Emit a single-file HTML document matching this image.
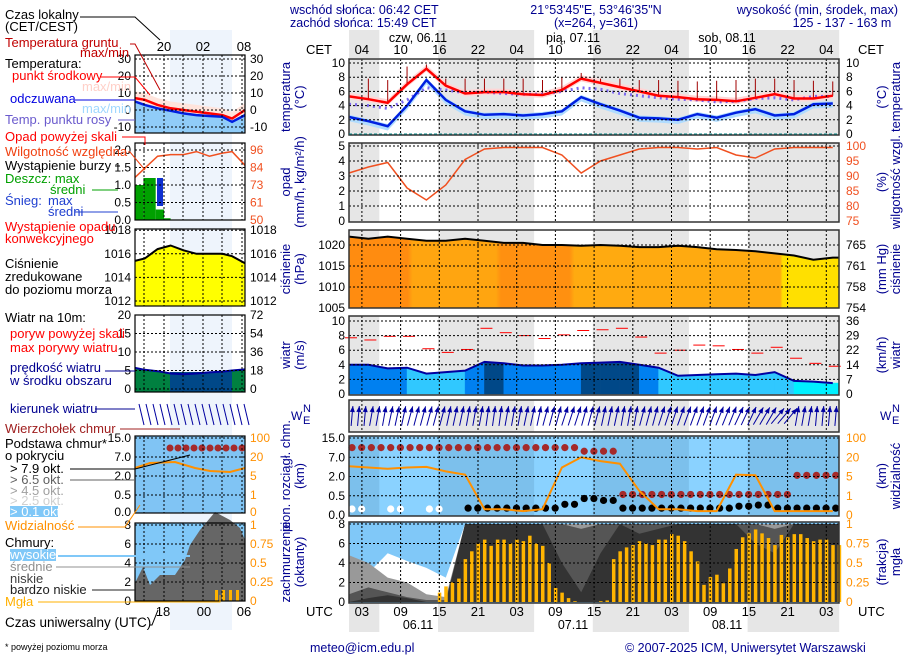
<!DOCTYPE html>
<html><head><meta charset="utf-8">
<style>
html,body{margin:0;padding:0;background:#fff;}
svg{display:block;font-family:"Liberation Sans",sans-serif;}
.nv{fill:#000090;}
</style></head>
<body>
<svg id="chart" width="910" height="660" viewBox="0 0 910 660" xmlns="http://www.w3.org/2000/svg">
<defs>
<linearGradient id="pgrad" x1="0" x2="1" y1="0" y2="0">
<stop offset="0" stop-color="#ff8c10"/><stop offset="0.12" stop-color="#ff8c10"/>
<stop offset="0.13" stop-color="#ffa510"/><stop offset="0.3" stop-color="#ffa510"/>
<stop offset="0.31" stop-color="#ff9010"/><stop offset="0.45" stop-color="#ff9010"/>
<stop offset="0.46" stop-color="#ffaa10"/><stop offset="0.88" stop-color="#ffaa10"/>
<stop offset="0.885" stop-color="#ffe000"/><stop offset="1" stop-color="#ffe000"/>
</linearGradient>
</defs>
<g id="bg"></g>
<g id="marks"></g>
<g id="grid"></g>
<g id="labels" font-size="12"></g>

<g class="nv" font-size="12.5">
<text x="290" y="14">wschód słońca: 06:42 CET</text>
<text x="290" y="27">zachód słońca: 15:49 CET</text>
<text x="596" y="14" text-anchor="middle">21°53'45"E, 53°46'35"N</text>
<text x="596" y="27" text-anchor="middle">(x=264,  y=361)</text>
<text x="898" y="14" text-anchor="end">wysokość (min, środek, max)</text>
<text x="842" y="27" text-anchor="middle">125 - 137 - 163 m</text>
</g>
<g font-size="12.5" fill="#000">
<text x="418" y="42" text-anchor="middle">czw, 06.11</text>
<text x="573" y="42" text-anchor="middle">pią, 07.11</text>
<text x="727" y="42" text-anchor="middle">sob, 08.11</text>
<text x="306" y="54" font-size="13">CET</text>
<text x="858" y="54" font-size="13">CET</text>
<text x="306" y="616" font-size="13">UTC</text>
<text x="858" y="616" font-size="13">UTC</text>
<text x="418" y="629" text-anchor="middle">06.11</text>
<text x="573" y="629" text-anchor="middle">07.11</text>
<text x="727" y="629" text-anchor="middle">08.11</text>
</g>
<g class="nv" font-size="12.5">
<text x="310" y="652">meteo@icm.edu.pl</text>
<text x="625" y="652">© 2007-2025 ICM, Uniwersytet Warszawski</text>
</g>

<g font-size="13">
<text x="5" y="19">Czas lokalny</text>
<text x="5" y="31">(CET/CEST)</text>
<text x="5" y="47" fill="#c00000">Temperatura gruntu</text>
<text x="80" y="57" fill="#c00000">max/min</text>
<text x="5" y="68">Temperatura:</text>
<text x="12" y="80" fill="#ff0000">punkt środkowy</text>
<text x="82" y="91" fill="#ffd0c8">max/min</text>
<text x="10" y="103" fill="#0000e0">odczuwana</text>
<text x="82" y="113" fill="#a0d8ff">max/min</text>
<text x="5" y="124" fill="#6a5acd">Temp. punktu rosy</text>
<text x="5" y="141" fill="#ff0000">Opad powyżej skali</text>
<text x="5" y="156" fill="#f04010">Wilgotność względna</text>
<text x="5" y="170">Wystąpienie burzy</text>
<text x="5" y="183" fill="#00a000">Deszcz: max</text>
<text x="50" y="194" fill="#00a000">średni</text>
<text x="5" y="205" fill="#2040d0">Śnieg:</text>
<text x="48" y="205" fill="#2040d0">max</text>
<text x="48" y="216" fill="#2040d0">średni</text>
<text x="5" y="231" fill="#ff0000">Wystąpienie opadu</text>
<text x="5" y="243" fill="#ff0000">konwekcyjnego</text>
<text x="5" y="268">Ciśnienie</text>
<text x="5" y="281">zredukowane</text>
<text x="5" y="294">do poziomu morza</text>
<text x="5" y="322">Wiatr na 10m:</text>
<text x="10" y="338" fill="#ff0000">poryw powyżej skali</text>
<text x="10" y="352" fill="#ff0000">max porywy wiatru</text>
<text x="10" y="372" fill="#000090">prędkość wiatru</text>
<text x="10" y="385" fill="#000090">w środku obszaru</text>
<text x="10" y="413" fill="#000090">kierunek wiatru</text>
<text x="5" y="433" fill="#a02020">Wierzchołek chmur</text>
<text x="5" y="448">Podstawa chmur*</text>
<text x="5" y="460">o pokryciu</text>
<text x="10" y="473">&gt; 7.9 okt.</text>
<text x="10" y="484" fill="#606060">&gt; 6.5 okt.</text>
<text x="10" y="495" fill="#a0a0a0">&gt; 4.5 okt.</text>
<text x="10" y="505" fill="#d0d0d0">&gt; 2.5 okt.</text>
<rect x="10" y="506" width="48" height="11" fill="#80c8f8"/>
<text x="10" y="516" fill="#fff">&gt; 0.1 okt.</text>
<text x="5" y="530" fill="#ff9000">Widzialność</text>
<text x="5" y="547">Chmury:</text>
<rect x="10" y="549" width="46" height="12" fill="#80c8f8"/>
<text x="10" y="559" fill="#fff">wysokie</text>
<text x="10" y="571" fill="#909090">średnie</text>
<text x="10" y="583" fill="#404040">niskie</text>
<text x="10" y="594" fill="#202020">bardzo niskie</text>
<text x="5" y="606" fill="#ffb000">Mgła</text>
<text x="5" y="627" font-size="13.5">Czas uniwersalny (UTC)</text>
<text x="5" y="650" font-size="9">* powyżej poziomu morza</text>
</g>
<g stroke-width="1" fill="none">
<polyline points="80,17 135,17 160,40" stroke="#000"/>
<polyline points="130,44 135,44 160,90" stroke="#c00000"/>
<polyline points="100,77 135,77 150,95" stroke="#ff0000"/>
<polyline points="75,100 135,100" stroke="#0000e0"/>
<polyline points="118,120 135,120" stroke="#6a5acd"/>
<polyline points="122,137 145,137 145,145" stroke="#ff0000"/>
<polyline points="128,152 130,152 145,170" stroke="#f04010"/>
<polyline points="115,166 120,166" stroke="#000"/>
<polyline points="92,190 118,190" stroke="#00a000"/>
<polyline points="75,212 118,212" stroke="#2040d0"/>
<polyline points="105,371 135,371" stroke="#000090"/>
<polyline points="95,409 135,409" stroke="#000090"/>
<polyline points="120,429 180,429" stroke="#a02020"/>
<polyline points="70,469 135,469 190,455" stroke="#000"/>
<polyline points="70,480 135,480" stroke="#606060"/>
<polyline points="78,527 125,527 140,505" stroke="#ff9000"/>
<polyline points="58,556 190,556" stroke="#80c8f8" stroke-width="2"/>
<polyline points="56,567 190,567" stroke="#909090"/>
<polyline points="92,590 135,590" stroke="#202020"/>
<polyline points="38,602 220,602 220,595" stroke="#ffb000"/>
<polyline points="150,625 152,625 158,610" stroke="#000"/>
</g>
</svg>
<script>
const hours = [0,3,6,9,12,15,18,21,24,27,30,33,36,39,42,45,48,51,54,57,60,63,66,69,72,75];
const tempMid = [5.3,4.9,4.4,7.0,9.2,6.8,5.7,5.9,5.9,5.6,5.5,6.2,7.8,7.2,6.6,6.0,5.4,5.2,4.9,4.8,4.6,5.1,5.6,5.0,5.0,5.4];
const tempFelt = [2.4,1.8,1.1,4.0,7.6,4.8,3.2,2.7,2.8,2.6,2.8,3.2,5.2,4.2,3.3,2.3,2.2,2.0,2.8,2.3,3.0,3.5,2.6,2.8,4.2,4.3];
const dewPoint = [4.2,4.0,3.6,4.8,6.5,6.2,5.8,5.9,5.7,5.6,5.6,6.0,6.5,6.3,5.7,5.4,5.1,4.9,4.8,4.5,4.6,5.0,5.1,4.8,5.3,5.3];
const groundMax = [7.8,7.8,7.6,9.5,9.8,7.8,7.8,7.8,7.8,7.8,7.6,8.0,8.6,7.8,7.8,7.6,7.6,7.5,7.4,7.5,7.6,7.8,7.8,7.6,7.5,7.4];
const humidity = [91,93,94.5,86,82,87,95.5,99,99.5,99.5,99.5,97,91,95,97,99,99.5,99.5,99,99.5,97,96,99,99.5,99.5,99.5];
const pressure = [1022,1021.5,1022,1021.5,1021,1021,1021.5,1021,1020.5,1020.5,1020,1020,1019.8,1020,1019.8,1019.5,1019.5,1019.8,1019.5,1019,1018.8,1018.5,1018,1017.5,1016.5,1017];
const windSpeed = [4.0,4.0,3.5,3.6,2.8,3.0,3.2,4.4,4.2,3.9,3.9,4.0,4.2,4.3,4.4,4.0,3.6,2.5,2.6,2.7,2.8,2.6,3.0,1.8,1.7,1.5];
const windGust = [7.7,7.4,7.9,7.9,6.2,5.7,6.1,9.0,8.4,8.0,7.6,8.1,8.7,8.8,9.0,7.8,5.6,6.0,6.7,6.6,6.1,5.6,6.4,4.9,4.2,3.8];
const windDir = [5,10,12,15,15,12,10,8,10,12,15,18,15,12,10,15,18,20,20,22,25,30,40,10,5,5];
const visibility = [13,12,11,12,12.5,9,6.5,0.3,0.3,0.2,0.3,12,20,17,15,2,0.3,0.3,0.2,0.2,6.5,6,0.2,0.2,0.2,0.2];
const cloudTopKm = [11,11,11,11,11,11,11,11,11,11,11,11,9.5,9.5,0.6,0.6,0.6,0.6,0.6,0.6,0.6,0.6,0.6,2.3,2.3,2.3];
const cloudBaseKm = [0,0,0,0,0,0,0.1,0.1,0.1,0.1,0.1,0.2,0.35,0.3,0.1,0.1,0.1,0.1,0.1,0.1,0.15,0.18,0.1,0.1,0.1,0.1];
const cloudHigh = [4.5,3.0,5.0,4.2,3.5,2.5,8,8,8,8,8,8,8,8,8,8,8,8,8,8,8,8,8,8,8,8];
const cloudMid = [4.8,4.0,2.5,2.0,0.8,0.5,8,8,8,8,8,8,8,8,8,8,8,8,8,8,8,8,8,8,8,8];
const cloudLow = [0.8,1.5,1.0,0.5,0.2,0.2,8,8,8,8,8,8,7.5,8,8,8,8,8,8,8,8,8,7.5,8,8,8];
const cloudVeryLow = [0,0.4,0.7,0.4,0,0,8,8,8,8,8,4,1,5,8,7,7.5,8,8,8,8,6,5,8,8,8];
const fogStart = 14;
const fogFraction = [.12,.2,.25,.3,.55,.65,.75,.8,.72,.8,.8,.75,.8,.78,.85,.75,.72,.5,.18,.12,.05,.01,0,0,0,.01,.02,.55,.65,.7,.73,.78,.75,.73,.8,.8,.87,.85,.78,.65,.52,.22,.32,.35,.24,.43,.68,.83,.88,.93,.88,.82,.73,.86,.83,.87,.87,.82,.78,.8,.8,.73,.73];
const cetTicks = ["04","10","16","22","04","10","16","22","04","10","16","22","04"];
const utcTicks = ["03","09","15","21","03","09","15","21","03","09","15","21","03"];
const nights = [[0,4.7],[13.8,28.7],[37.8,52.7],[61.8,76]];
const tempTicks = [0,2,4,6,8,10];
const precipTicks = [0,1,2,3,4,5];
const rhTicks = ["75","80","85","90","95","100"];
const presTicks = [1005,1010,1015,1020];
const presHgTicks = ["754","758","761","765"];
const windTicks = [0,2,4,6,8,10];
const windKmhTicks = ["0","7","14","22","29","36"];
const cbTicks = ["0.0","0.5","2.0","7.0","15.0"];
const cbKm = [0,0.5,2,7,15];
const visTicks = ["0","1","5","20","100"];
const visVals = [0,1,5,20,100];
const ccTicks = [0,2,4,6,8];
const fogTicks = ["0","0.25","0.5","0.75","1"];

const miniHours = [15.5,17,19,21,23,25,27,29,30.5,32.5];
const miniTemp = [7,6,3,1,0,-1,-2,-3,-5,0];
const miniFelt = [5,3,1,-0.5,-2,-3,-3.5,-4,-7,-3];
const miniRH = [78,84,92,93,93,95,92,94,95,86];
const miniPres = [1015.4,1015.6,1016.4,1016.7,1016.3,1016.0,1016.0,1016.0,1015.8,1015.2];
const miniWind = [5.7,5.2,4.8,4.2,4.0,4.2,4.5,4.7,5.0,5.3];
const miniRainHours = [15.5,16.8,18.7,20,21];
const miniRain = [1.0,1.2,0.3,0.05,0];

const NS="http://www.w3.org/2000/svg";
const bg=document.getElementById('bg'), mk_=document.getElementById('marks'), gr=document.getElementById('grid'), lb=document.getElementById('labels');
function mk(tag,at,par){const e=document.createElementNS(NS,tag);for(const k in at)e.setAttribute(k,at[k]);par.appendChild(e);return e;}
const X=t=>349+t*6.45;
const P={temp:[59,135],prec:[143,222],pres:[230,308],wind:[316,395],dir:[400,432],cb:[436,516],cc:[522,603]};
const yT=v=>134-v*7.1, yP=v=>221-v*15, yRH=v=>221-(v-75)*3, yPr=v=>308-(v-1005)*4.2, yW=v=>394-v*7.3, yC=v=>602-v*9.75;
function pieceIdx(v,arr){for(let i=1;i<arr.length;i++){if(v<=arr[i])return i-1+(v-arr[i-1])/(arr[i]-arr[i-1]);}return arr.length-1;}
const yCB=km=>515-pieceIdx(km,cbKm)*19.25, yVis=v=>515-pieceIdx(v,visVals)*19.25;
function pts(fy,vals){return hours.map((h,i)=>X(h).toFixed(1)+','+fy(vals[i]).toFixed(1)).join(' ');}

for(const k in P){const [a,b]=P[k];
 let r=mk('rect',{x:349,y:a,width:490,height:b-a,fill:k==='cb'?'#8ad2ff':(k==='cc'?'#80c8f8':'#fff')},bg);
 
 
 nights.forEach((n,i)=>{let s=mk('rect',{x:X(n[0]),y:a,width:X(n[1])-X(n[0]),height:b-a,fill:k==='cb'?'#7cc0ec':(k==='cc'?'#80c8f8':'#e6e6e6')},bg);
  
  });
}
[[30,58],[603,632]].forEach(([a,b])=>nights.forEach(n=>{let s=mk('rect',{x:X(n[0]),y:a,width:X(n[1])-X(n[0]),height:b-a,fill:'#e6e6e6'},bg);
 
 }));
let band=mk('rect',{x:170,y:30,width:62,height:600,fill:'#eef4fc'},bg);


const MP={temp:[55,133],prec:[143,220],pres:[229,306],wind:[315,392],dir:[398,429],cb:[436,513],cc:[523,601]};
for(const k in MP){const [a,b]=MP[k];
 let r=mk('rect',{x:135,y:a,width:110,height:b-a,fill:k==='cb'?'#80c4f4':(k==='cc'?'#80c8f8':'#fff')},bg);
 
 
 if(k!=='cb'&&k!=='cc'){let s=mk('rect',{x:170,y:a,width:62,height:b-a,fill:'#eef4fc'},bg);
  
  }
}

const tb=mk('polygon',{points:pts(v=>yT(v+0.5),tempMid)+' '+hours.slice().reverse().map((h,i)=>X(h)+','+yT(tempMid[hours.length-1-i]-0.4)).join(' '),fill:'#ffd6d6'},mk_);


const fb=mk('polygon',{points:pts(v=>yT(v+0.3),tempFelt)+' '+hours.slice().reverse().map((h,i)=>X(h)+','+yT(tempFelt[hours.length-1-i]-0.6)).join(' '),fill:'#b0dcff'},mk_);


hours.forEach((h,i)=>{let l=mk('line',{x1:X(h),x2:X(h),y1:yT(tempMid[i]),y2:yT(groundMax[i]),stroke:'#a00000','stroke-width':1},mk_);
 
 });
let dl=mk('polyline',{points:pts(yT,dewPoint),fill:'none',stroke:'#7b68ee','stroke-width':3,'stroke-dasharray':'2,4'},mk_);


let tl=mk('polyline',{points:pts(yT,tempMid),fill:'none',stroke:'#ff0000','stroke-width':2.5},mk_);


let fl=mk('polyline',{points:pts(yT,tempFelt),fill:'none',stroke:'#0020e0','stroke-width':2.5},mk_);



let rl=mk('polyline',{points:pts(yRH,humidity),fill:'none',stroke:'#f05020','stroke-width':1.5},mk_);



let pa=mk('polygon',{points:'349,308 '+pts(yPr,pressure)+' 839,'+yPr(pressure[pressure.length-1])+' 839,308',fill:'url(#pgrad)'},mk_);


let pl=mk('polyline',{points:pts(yPr,pressure)+' 839,'+yPr(pressure[pressure.length-1]),fill:'none',stroke:'#000','stroke-width':2},mk_);



function wcol(v){return v>=4.2?'#004888':v>=3.3?'#0080f0':v>=2.2?'#30c8ff':'#00f0ff';}
for(let i=0;i<hours.length;i++){const h0=hours[i],h1=i<hours.length-1?hours[i+1]:76;const v1=i<hours.length-1?windSpeed[i+1]:windSpeed[i];
 let s=mk('polygon',{points:`${X(h0)},394 ${X(h0)},${yW(windSpeed[i])} ${X(h1)},${yW(v1)} ${X(h1)},394`,fill:wcol((windSpeed[i]+v1)/2),stroke:wcol((windSpeed[i]+v1)/2),'stroke-width':0.5},mk_);
 
 }
let wl=mk('polyline',{points:pts(yW,windSpeed),fill:'none',stroke:'#0000a0','stroke-width':2},mk_);


hours.forEach((h,i)=>{let g=mk('line',{x1:X(h)-4,x2:X(h)+8,y1:yW(windGust[i]),y2:yW(windGust[i]),stroke:'#ff0000','stroke-width':1},mk_);
 
 });

for(let t=0;t<76;t++){const d=windDir[Math.min(Math.floor(t/3),windDir.length-1)]*Math.PI/180;const cx=X(t)+3,cy=416,L=10;
 const x1=cx-Math.sin(d)*L,y1=cy+Math.cos(d)*L,x2=cx+Math.sin(d)*L,y2=cy-Math.cos(d)*L;
 let a=mk('line',{x1:x1,y1:y1,x2:x2,y2:y2,stroke:'#0000a0','stroke-width':1},mk_);
 
 
 let hd=mk('polygon',{points:`${x2},${y2} ${x2-2.5},${y2+6} ${x2+2.5},${y2+6}`,fill:'#0000a0',transform:`rotate(${d*180/Math.PI} ${x2} ${y2})`},mk_);
 
 }

hours.forEach((h,i)=>{[0,1.5].forEach(o=>{if(h+o>76)return;
 let c=mk('circle',{cx:X(h+o)+3,cy:yCB(cloudTopKm[i]),r:3.6,fill:'#a52a2a'},mk_);
 
 
 if(h>=18){let b=mk('circle',{cx:X(h+o)+3,cy:yCB(cloudBaseKm[i])-3,r:3.6,fill:'#000'},mk_);
 
 }
 else if(i%2===0){let b=mk('circle',{cx:X(h+o)+3,cy:509,r:3.6,fill:'#fff'},mk_);
 
 }
});});
let vl=mk('polyline',{points:pts(yVis,visibility),fill:'none',stroke:'#ff9000','stroke-width':2},mk_);



[[cloudHigh,'#ffffff','high'],[cloudMid,'#999999','mid'],[cloudLow,'#555555','low'],[cloudVeryLow,'#333333','very-low']].forEach(([arr,col,nm])=>{
 let a=mk('polygon',{points:'349,602 '+pts(yC,arr)+' 839,'+yC(arr[arr.length-1])+' 839,602',fill:col},mk_);
 
 });
fogFraction.forEach((f,i)=>{const t=fogStart+i;if(t>76||f<=0)return;
 let b=mk('rect',{x:X(t)-1.5,y:602-f*78,width:3.5,height:f*78,fill:'#ffb400'},mk_);
 
 });

for(let k=0;k<13;k++){const x=X(2+6*k);
 for(const p in P){const [a,b]=P[p];let l=mk('line',{x1:x,x2:x,y1:a,y2:b,stroke:'#000','stroke-dasharray':'2,2','stroke-width':1},gr);
  
  }
 let c=mk('text',{x:x,y:54,'text-anchor':'middle','font-size':13},lb);c.textContent=cetTicks[k];
 
 
 let u=mk('text',{x:x,y:616,'text-anchor':'middle','font-size':13},lb);u.textContent=utcTicks[k];
 
 }
function hgrid(a,b,ys,ll,rl,rcol,nm){ys.forEach((y,i)=>{if(y>a+1&&y<b-1){let l=mk('line',{x1:349,x2:839,y1:y,y2:y,stroke:'#000','stroke-dasharray':'2,2'},gr);
  
  }
 let t=mk('text',{x:345,y:y+4,'text-anchor':'end'},lb);t.textContent=ll[i];
 
 
 let r=mk('text',{x:846,y:y+4,fill:rcol},lb);r.textContent=rl[i];
 
 });}
hgrid(59,135,tempTicks.map(yT),tempTicks,tempTicks,'#000','temp');
hgrid(143,222,precipTicks.map(yP),precipTicks,rhTicks,'#f05020','precip');
hgrid(230,308,presTicks.map(yPr),presTicks,presHgTicks,'#000','pressure');
hgrid(316,395,windTicks.map(yW),windTicks,windKmhTicks,'#000','wind');
hgrid(436,516,cbKm.map(yCB),cbTicks,visTicks,'#ff9000','cloudbase');
hgrid(522,603,ccTicks.map(yC),ccTicks,fogTicks,'#ff9000','cloudcover');
for(const p in P){const [a,b]=P[p];let f=mk('rect',{x:349,y:a,width:490,height:b-a,fill:'none',stroke:'#333','stroke-width':1.5},gr);
 
 }
let zl=mk('line',{x1:349,x2:839,y1:134,y2:134,stroke:'#008080','stroke-width':1,'stroke-dasharray':'3,2'},gr);



const titles=[[97,'temperatura','(°C)','(°C)','temperatura'],[182,'opad','(mm/h, kg/m²/h)','(%)','wilgotność wzgl.'],[269,'ciśnienie','(hPa)','(mm Hg)','ciśnienie'],[355,'wiatr','(m/s)','(km/h)','wiatr'],[476,'pion. rozciągł. chm.','(km)','(km)','widzialność'],[562,'zachmurzenie','(oktanty)','(frakcja)','mgła']];
titles.forEach(([cy,a,b,c,d])=>{[[290,a],[304,b],[886,c],[900,d]].forEach(([x,s])=>{
 let t=mk('text',{x:x,y:cy,'text-anchor':'middle','font-size':13,fill:'#000090',transform:`rotate(-90 ${x} ${cy})`},lb);t.textContent=s;
 
 });});
[[297,'compass-left'],[886,'compass-right']].forEach(([x,nm])=>{let t=mk('text',{x:x-6,y:420,'font-size':12,fill:'#000090'},lb);t.textContent='W';
 
 
 let n=mk('text',{x:x+6,y:412,'font-size':11,fill:'#000090'},lb);n.textContent='N';
 
 
 let e=mk('text',{x:x+6,y:424,'font-size':11,fill:'#000090'},lb);e.textContent='E';
 
 });

const xm=h=>135+(h-15.5)*6.47;
const ymT=v=>110-v*1.7, ymP=v=>220-v*35, ymRH=v=>220-(v-50)*1.52, ymPr=v=>301-(v-1012)*11.8, ymW=v=>389-v*3.7;
function mpts(fy,vals){return miniHours.map((h,i)=>xm(h).toFixed(1)+','+fy(vals[i]).toFixed(1)).join(' ');}
let mtb=mk('polygon',{points:mpts(v=>ymT(v+4),miniTemp)+' '+miniHours.slice().reverse().map((h,i)=>xm(h)+','+ymT(miniTemp[miniHours.length-1-i]-4)).join(' '),fill:'#ffe4dc'},mk_);


let mfb=mk('polygon',{points:mpts(ymT,miniFelt)+' 245,133 135,133',fill:'#90ccf8'},mk_);


let mtl=mk('polyline',{points:mpts(ymT,miniTemp),fill:'none',stroke:'#ff0000','stroke-width':2.5},mk_);


let mfl=mk('polyline',{points:mpts(ymT,miniFelt),fill:'none',stroke:'#0020e0','stroke-width':2.5},mk_);


miniRainHours.forEach((h,i)=>{const w=i<miniRainHours.length-1?xm(miniRainHours[i+1])-xm(h):6;
 let r=mk('rect',{x:xm(h),y:ymP(miniRain[i]),width:w,height:220-ymP(miniRain[i]),fill:'#00a000'},mk_);
 
 });
let msn=mk('rect',{x:157,y:ymP(1.2),width:6,height:ymP(0.4)-ymP(1.2),fill:'#1030d0'},mk_);


let mrh=mk('polyline',{points:mpts(ymRH,miniRH),fill:'none',stroke:'#f05020','stroke-width':1.5},mk_);


let mpa=mk('polygon',{points:'135,306 '+mpts(ymPr,miniPres)+' 245,306',fill:'#ffff00'},mk_);


let mpl=mk('polyline',{points:mpts(ymPr,miniPres),fill:'none',stroke:'#000','stroke-width':2},mk_);


let mwa=mk('polygon',{points:'135,392 '+mpts(ymW,miniWind)+' 245,392',fill:'#008040'},mk_);


let mwd=mk('rect',{x:170,y:372,width:62,height:20,fill:'#004888'},mk_);


let mwl=mk('polyline',{points:mpts(ymW,miniWind),fill:'none',stroke:'#0000a0','stroke-width':2},mk_);


for(let k=0;k<16;k++){const x=139+k*7;let a=mk('line',{x1:x,y1:404,x2:x+5,y2:425,stroke:'#0000a0'},mk_);
 
 }
let mcc=mk('polygon',{points:'135,601 135,583 143,567 150,585 160,575 175,575 185,560 190,545 200,530 215,512 230,520 240,528 245,540 245,601',fill:'#666'},mk_);


let mfg=[215,222,229,236];mfg.forEach(x=>{let r=mk('rect',{x:x,y:590,width:3,height:11,fill:'#ffb400'},mk_);
 
 });
let mvis=mk('polyline',{points:'135,468 150,463 175,462 195,468 210,471 230,472 245,468',fill:'none',stroke:'#ff9000','stroke-width':2},mk_);


for(let k=0;k<10;k++){let c=mk('circle',{cx:170+k*8,cy:448,r:3.5,fill:'#a52a2a'},mk_);
 
 }
const mGrid=[['temp',55,133,[30,20,10,0,-10].map(ymT),['30','20','10','0','-10'],['30','20','10','0','-10'],'#000'],
 ['prec',143,220,[2,1.5,1,0.5,0].map(ymP),['2.0','1.5','1.0','0.5','0.0'],['96','84','73','61','50'],'#f05020'],
 ['pres',229,306,[1018,1016,1014,1012].map(ymPr),['1018','1016','1014','1012'],['1018','1016','1014','1012'],'#000'],
 ['wind',315,392,[20,15,10,5,0].map(ymW),['20','15','10','5','0'],['72','54','36','18','0'],'#000'],
 ['cb',436,513,[438,457,476,495,512],['15.0','7.0','2.0','0.5','0.0'],['100','20','5','1','0'],'#ff9000'],
 ['cc',523,601,[525,544,563,582,601],['8','6','4','2','0'],['1','0.75','0.5','0.25','0'],'#ff9000']];
mGrid.forEach(([nm,a,b,ys,ll,rl,rc])=>{
 ys.forEach((y,i)=>{if(y>a+1&&y<b-1){let l=mk('line',{x1:135,x2:245,y1:y,y2:y,stroke:'#000','stroke-dasharray':'2,2'},gr);
  
  }
  let t=mk('text',{x:131,y:y+4,'text-anchor':'end'},lb);t.textContent=ll[i];
  
  
  let r=mk('text',{x:250,y:y+4,fill:rc},lb);r.textContent=rl[i];
  
  });
 [144,164,183,203,222,242].forEach(x=>{let l=mk('line',{x1:x,x2:x,y1:a,y2:b,stroke:'#000','stroke-dasharray':'2,2'},gr);
  
  });
 let f=mk('rect',{x:135,y:a,width:110,height:b-a,fill:'none',stroke:'#000','stroke-width':1.2},gr);
 
 });
[['20',164,51],['02',203,51],['08',244,51],['18',163,616],['00',204,616],['06',244,616]].forEach(([s,x,y])=>{let t=mk('text',{x:x,y:y,'text-anchor':'middle','font-size':13},lb);t.textContent=s;
 
 });
</script>
</body></html>
